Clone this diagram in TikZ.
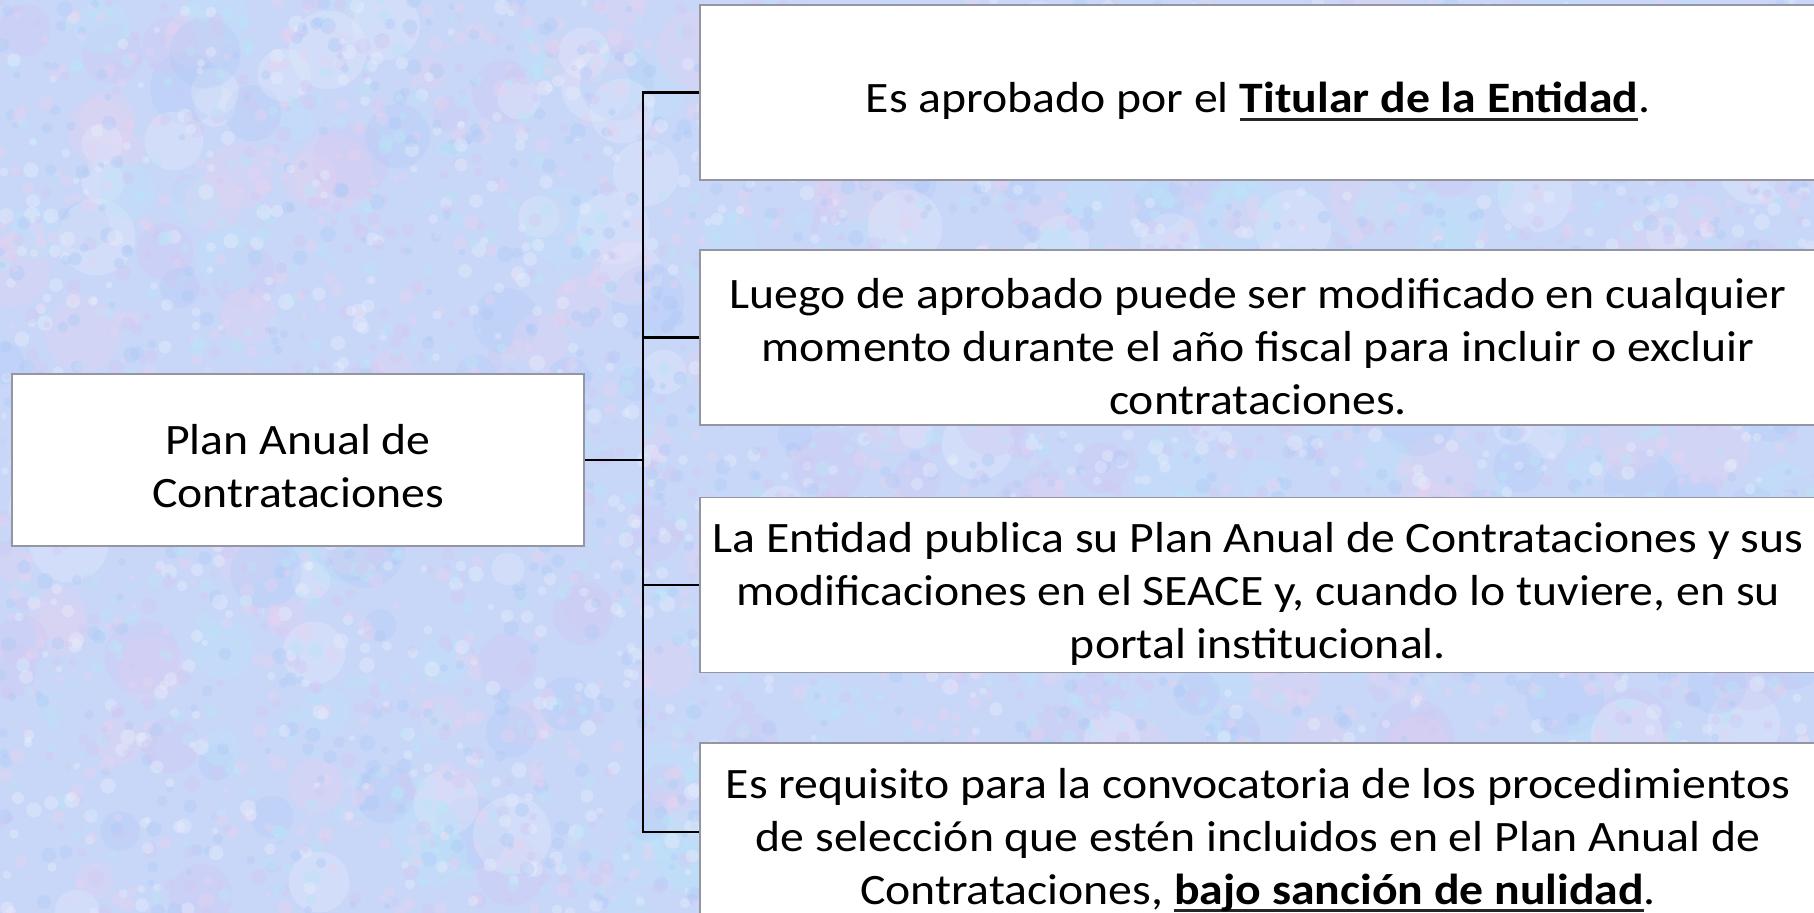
\documentclass[tikz,border=0pt]{standalone}
\usepackage{fontspec}
\setmainfont[FakeStretch=1.1]{Carlito}
\newsavebox\myulbox
\newcommand\myul[1]{\sbox\myulbox{#1}\rlap{\color{black!85}\rule[-3.9pt]{\wd\myulbox}{1.3pt}}\usebox\myulbox}
\definecolor{bgbase}{RGB}{200,214,248}
\definecolor{bga}{RGB}{176,202,246}
\definecolor{bgb}{RGB}{210,200,242}
\definecolor{bgc}{RGB}{236,210,240}
\definecolor{bgd}{RGB}{186,230,248}
\definecolor{bge}{RGB}{232,238,252}
\definecolor{boxgray}{RGB}{150,150,162}
\tikzset{
  boxbase/.style={draw=boxgray, fill=white, line width=0.7pt, inner sep=0pt},
  rbox/.style={boxbase, minimum width=558pt, minimum height=87.5pt},
  rootbox/.style={boxbase, minimum width=286pt, minimum height=86pt},
  btext/.style={align=center, inner sep=0pt, font=\fontsize{21.7}{26.5}\selectfont},
  conn/.style={draw=black, line width=1.1pt}
}
\begin{document}
\begin{tikzpicture}[x=0.5pt,y=-0.5pt]
\useasboundingbox (0,0) rectangle (1814,913);
\begin{scope}
\clip (0,0) rectangle (1814,913);
\fill[bgbase] (0,0) rectangle (1814,913);
\pgfmathsetseed{11}
\foreach \i in {1,...,420}{
  \pgfmathsetmacro\rx{random(0,1814)}
  \pgfmathsetmacro\ry{random(0,913)}
  \pgfmathtruncatemacro\rc{random(1,5)}
  \pgfmathsetmacro\rr{8+12*rnd}
  \ifcase\rc\or
    \fill[bga,opacity=0.3] (\rx,\ry) circle (\rr pt);\or
    \fill[bgb,opacity=0.3] (\rx,\ry) circle (\rr pt);\or
    \fill[bgc,opacity=0.25] (\rx,\ry) circle (\rr pt);\or
    \fill[bgd,opacity=0.3] (\rx,\ry) circle (\rr pt);\or
    \fill[bge,opacity=0.3] (\rx,\ry) circle (\rr pt);\fi
}
\foreach \i in {1,...,5200}{
  \pgfmathsetmacro\rx{random(0,1814)}
  \pgfmathsetmacro\ry{random(0,913)}
  \pgfmathtruncatemacro\rc{random(1,5)}
  \pgfmathsetmacro\rr{1.5+2.5*rnd}
  \ifcase\rc\or
    \fill[bga,opacity=0.4] (\rx,\ry) circle (\rr pt);\or
    \fill[bgb,opacity=0.4] (\rx,\ry) circle (\rr pt);\or
    \fill[bgc,opacity=0.35] (\rx,\ry) circle (\rr pt);\or
    \fill[bgd,opacity=0.4] (\rx,\ry) circle (\rr pt);\or
    \fill[bge,opacity=0.4] (\rx,\ry) circle (\rr pt);\fi
}
\end{scope}

\coordinate (tx) at (643,0);

\node[rootbox] (root) at (298,460) {};
\node[btext] (roott) at ([yshift=-3pt]root.center) {Plan Anual de\\Contrataciones};

\node[rbox] (b1) at (1258,92.5) {};
\node[btext] (b1t) at ([yshift=-4.5pt]b1.center) {Es aprobado por el \myul{\textbf{Titular de la Entidad}}.};
\node[rbox] (b2) at (1258,337.5) {};
\node[btext] (b2t) at ([yshift=-4.5pt]b2.center) {Luego de aprobado puede ser modificado en cualquier\\momento durante el año fiscal para incluir o excluir\\contrataciones.};
\node[rbox] (b3) at (1258,585) {};
\node[btext] (b3t) at ([yshift=-4.5pt]b3.center) {La Entidad publica su Plan Anual de Contrataciones y sus\\modificaciones en el SEACE y, cuando lo tuviere, en su\\portal institucional.};
\node[rbox, minimum height=89pt] (b4) at (1258,832) {};
\node[btext] (b4t) at ([yshift=-4pt]b4.center) {Es requisito para la convocatoria de los procedimientos\\de selección que estén incluidos en el Plan Anual de\\Contrataciones, \myul{\textbf{bajo sanción de nulidad}}.};

\draw[conn] (root.east) -- (root.east -| tx);
\draw[conn] (b1.west) -- (b1.west -| tx) -- (b4.west -| tx) -- (b4.west);
\draw[conn] (b2.west) -- (b2.west -| tx);
\draw[conn] (b3.west) -- (b3.west -| tx);
\end{tikzpicture}
\end{document}
